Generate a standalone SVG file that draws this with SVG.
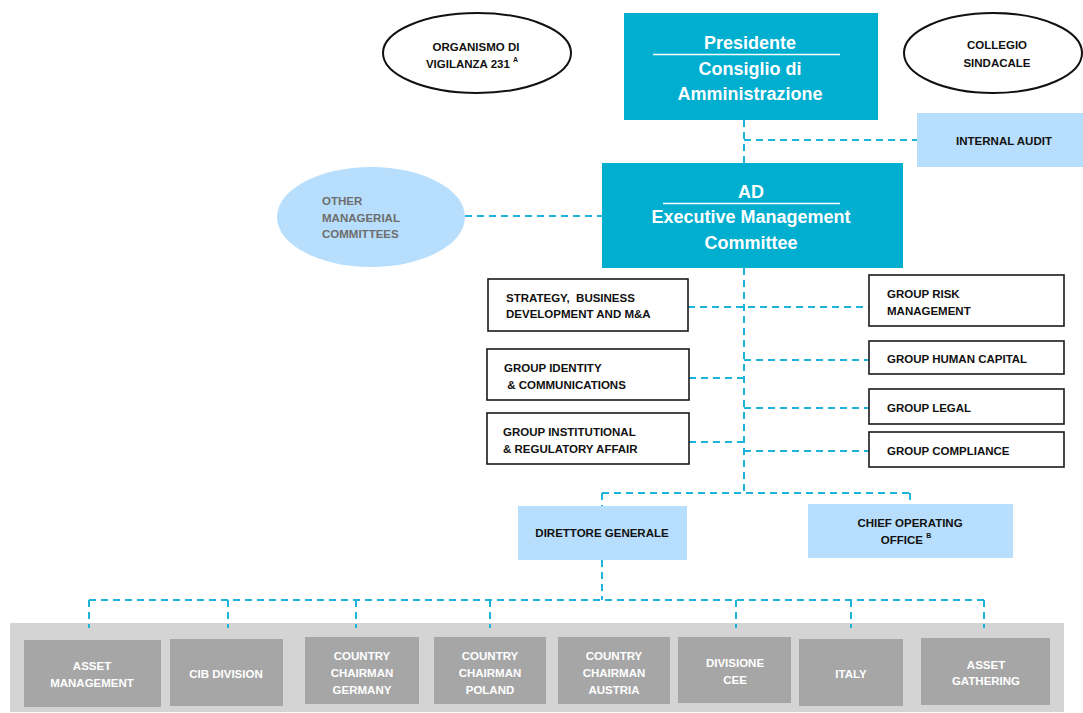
<svg xmlns="http://www.w3.org/2000/svg" width="1083" height="713" viewBox="0 0 1083 713">
<style>
  .teal{fill:#00aed0}
  .lb{fill:#b7defc}
  .wb{fill:#fff;stroke:#1a1a1a;stroke-width:1.6}
  .gb{fill:#a6a6a6}
  .ell{fill:#fff;stroke:#111;stroke-width:2}
  .dash{fill:none;stroke:#1cb4d8;stroke-width:2;stroke-dasharray:7 5}
  .big{font-family:"Liberation Sans",Arial,sans-serif;font-weight:bold;font-size:18px;fill:#fff;text-anchor:middle}
  .lbl{font-family:"Liberation Sans",Arial,sans-serif;font-weight:bold;font-size:11.5px;fill:#111}
  .c{text-anchor:middle}
  .wt{font-family:"Liberation Sans",Arial,sans-serif;font-weight:bold;font-size:11.5px;fill:#fff;text-anchor:middle}
  .gt{font-family:"Liberation Sans",Arial,sans-serif;font-weight:bold;font-size:11.5px;fill:#6d6d6d}
  .sup{font-size:7px}
</style>
<rect x="10" y="623" width="1054" height="89" fill="#d4d4d4"/>
<g id="connectors">
  <path class="dash" d="M744 120 V163"/>
  <path class="dash" d="M744 140 H917"/>
  <path class="dash" d="M465 216 H602"/>
  <path class="dash" d="M744 268 V493"/>
  <path class="dash" d="M688 307 H869"/>
  <path class="dash" d="M689 378 H744"/>
  <path class="dash" d="M689 442 H744"/>
  <path class="dash" d="M744 360 H869"/>
  <path class="dash" d="M744 408 H869"/>
  <path class="dash" d="M744 451 H869"/>
  <path class="dash" d="M602 493 H910"/>
  <path class="dash" d="M602 493 V506"/>
  <path class="dash" d="M910 493 V504"/>
  <path class="dash" d="M602 560 V600"/>
  <path class="dash" d="M89 600 H984"/>
  <path class="dash" d="M89 600 V628 M228 600 V628 M356 600 V628 M490 600 V628 M736 600 V628 M851 600 V628 M984 600 V628"/>
</g>
<g id="organismo">
  <ellipse class="ell" cx="477" cy="53" rx="94" ry="40"/>
  <text class="lbl c" x="476" y="51">ORGANISMO DI</text>
  <text class="lbl c" x="472" y="68">VIGILANZA 231 <tspan class="sup" dy="-6">A</tspan></text>
</g>
<g id="presidente">
  <rect class="teal" x="624" y="13" width="254" height="107"/>
  <text class="big" x="750" y="49">Presidente</text>
  <line x1="653" y1="54.5" x2="840" y2="54.5" stroke="#fff" stroke-width="1.5"/>
  <text class="big" x="750" y="75">Consiglio di</text>
  <text class="big" x="750" y="100">Amministrazione</text>
</g>
<g id="collegio">
  <ellipse class="ell" cx="993" cy="53" rx="89" ry="40"/>
  <text class="lbl c" x="997" y="49">COLLEGIO</text>
  <text class="lbl c" x="997" y="67">SINDACALE</text>
</g>
<g id="internal-audit">
  <rect class="lb" x="917" y="113" width="166" height="54"/>
  <text class="lbl c" x="1004" y="145">INTERNAL AUDIT</text>
</g>
<g id="other-committees">
  <ellipse class="lb" cx="371" cy="217" rx="94" ry="50"/>
  <text class="gt" x="322" y="205">OTHER</text>
  <text class="gt" x="322" y="222">MANAGERIAL</text>
  <text class="gt" x="322" y="238">COMMITTEES</text>
</g>
<g id="ad">
  <rect class="teal" x="602" y="163" width="301" height="105"/>
  <text class="big" x="751" y="198">AD</text>
  <line x1="663" y1="203.5" x2="840" y2="203.5" stroke="#fff" stroke-width="1.5"/>
  <text class="big" x="751" y="223">Executive Management</text>
  <text class="big" x="751" y="249">Committee</text>
</g>
<g id="strategy">
  <rect class="wb" x="488" y="279" width="200" height="52"/>
  <text class="lbl" x="506" y="302">STRATEGY,&#160; BUSINESS</text>
  <text class="lbl" x="506" y="318">DEVELOPMENT AND M&amp;A</text>
</g>
<g id="identity">
  <rect class="wb" x="487" y="349" width="202" height="51"/>
  <text class="lbl" x="504" y="372">GROUP IDENTITY</text>
  <text class="lbl" x="504" y="389">&#160;&amp; COMMUNICATIONS</text>
</g>
<g id="institutional">
  <rect class="wb" x="487" y="413" width="202" height="51"/>
  <text class="lbl" x="503" y="436">GROUP INSTITUTIONAL</text>
  <text class="lbl" x="503" y="453">&amp; REGULATORY AFFAIR</text>
</g>
<g id="risk">
  <rect class="wb" x="869" y="275" width="195" height="51"/>
  <text class="lbl" x="887" y="298">GROUP RISK</text>
  <text class="lbl" x="887" y="315">MANAGEMENT</text>
</g>
<g id="human-capital">
  <rect class="wb" x="869" y="341" width="195" height="33"/>
  <text class="lbl" x="887" y="363">GROUP HUMAN CAPITAL</text>
</g>
<g id="legal">
  <rect class="wb" x="869" y="389" width="195" height="35"/>
  <text class="lbl" x="887" y="412">GROUP LEGAL</text>
</g>
<g id="compliance">
  <rect class="wb" x="869" y="432" width="195" height="35"/>
  <text class="lbl" x="887" y="455">GROUP COMPLIANCE</text>
</g>
<g id="direttore">
  <rect class="lb" x="518" y="506" width="169" height="54"/>
  <text class="lbl c" x="602" y="537">DIRETTORE GENERALE</text>
</g>
<g id="coo">
  <rect class="lb" x="808" y="504" width="205" height="54"/>
  <text class="lbl c" x="910" y="527">CHIEF OPERATING</text>
  <text class="lbl c" x="906" y="544">OFFICE <tspan class="sup" dy="-6">B</tspan></text>
</g>
<g id="asset-management">
  <rect class="gb" x="24" y="640" width="137" height="67"/>
  <text class="wt" x="92" y="670">ASSET</text>
  <text class="wt" x="92" y="687">MANAGEMENT</text>
</g>
<g id="cib">
  <rect class="gb" x="170" y="639" width="113" height="67"/>
  <text class="wt" x="226" y="678">CIB DIVISION</text>
</g>
<g id="germany">
  <rect class="gb" x="305" y="637" width="114" height="67"/>
  <text class="wt" x="362" y="660">COUNTRY</text>
  <text class="wt" x="362" y="677">CHAIRMAN</text>
  <text class="wt" x="362" y="694">GERMANY</text>
</g>
<g id="poland">
  <rect class="gb" x="434" y="637" width="112" height="67"/>
  <text class="wt" x="490" y="660">COUNTRY</text>
  <text class="wt" x="490" y="677">CHAIRMAN</text>
  <text class="wt" x="490" y="694">POLAND</text>
</g>
<g id="austria">
  <rect class="gb" x="558" y="637" width="112" height="67"/>
  <text class="wt" x="614" y="660">COUNTRY</text>
  <text class="wt" x="614" y="677">CHAIRMAN</text>
  <text class="wt" x="614" y="694">AUSTRIA</text>
</g>
<g id="cee">
  <rect class="gb" x="678" y="637" width="113" height="66"/>
  <text class="wt" x="735" y="667">DIVISIONE</text>
  <text class="wt" x="735" y="684">CEE</text>
</g>
<g id="italy">
  <rect class="gb" x="799" y="639" width="104" height="67"/>
  <text class="wt" x="851" y="678">ITALY</text>
</g>
<g id="asset-gathering">
  <rect class="gb" x="921" y="638" width="129" height="67"/>
  <text class="wt" x="986" y="669">ASSET</text>
  <text class="wt" x="986" y="685">GATHERING</text>
</g>
</svg>
